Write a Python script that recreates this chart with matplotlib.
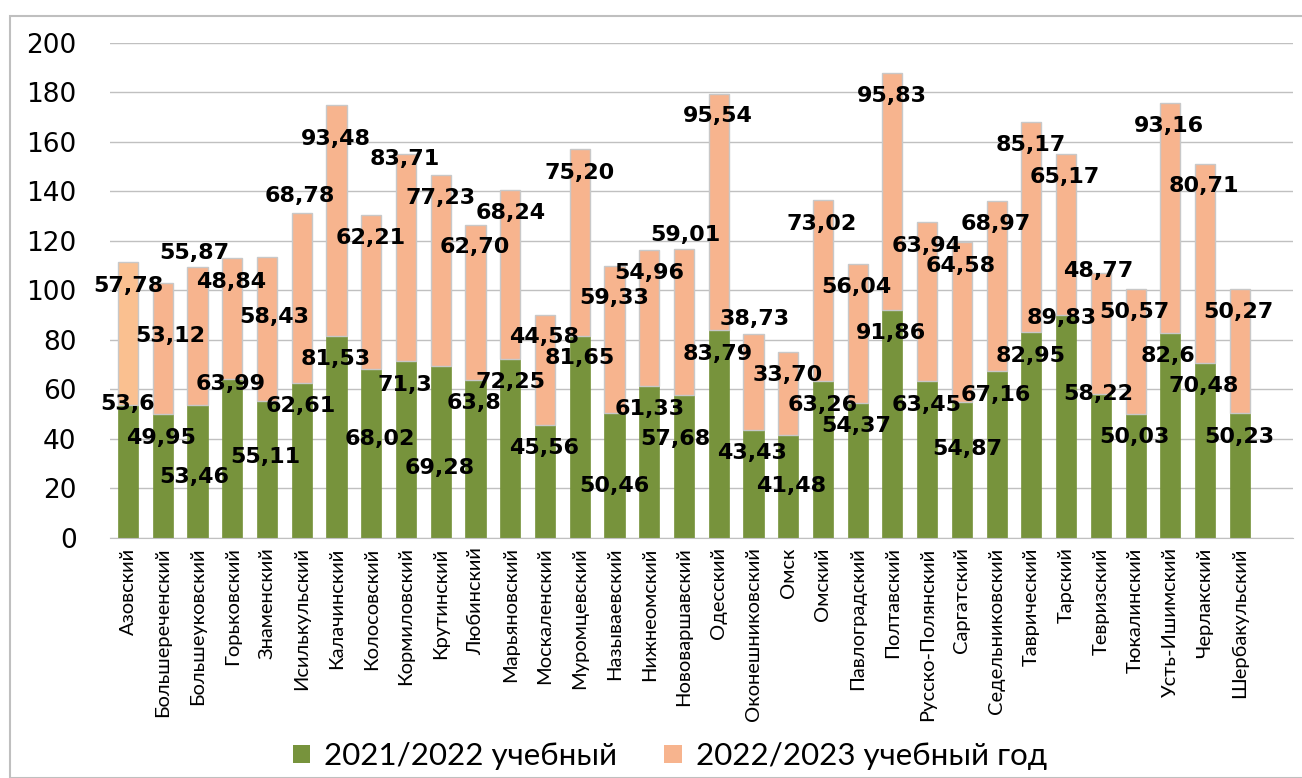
import numpy as np
import matplotlib
matplotlib.use('Agg')
import matplotlib.pyplot as plt
from matplotlib.patches import Rectangle, Patch

districts = ['Азовский', 'Большереченский', 'Большеуковский', 'Горьковский', 'Знаменский',
             'Исилькульский', 'Калачинский', 'Колосовский', 'Кормиловский', 'Крутинский',
             'Любинский', 'Марьяновский', 'Москаленский', 'Муромцевский', 'Называевский',
             'Нижнеомский', 'Нововаршавский', 'Одесский', 'Оконешниковский', 'Омск',
             'Омский', 'Павлоградский', 'Полтавский', 'Русско-Полянский', 'Саргатский',
             'Седельниковский', 'Таврический', 'Тарский', 'Тевризский', 'Тюкалинский',
             'Усть-Ишимский', 'Черлакский', 'Шербакульский']

y2122 = [53.6, 49.95, 53.46, 63.99, 55.11, 62.61, 81.53, 68.02, 71.3, 69.28,
         63.8, 72.25, 45.56, 81.65, 50.46, 61.33, 57.68, 83.79, 43.43, 41.48,
         63.26, 54.37, 91.86, 63.45, 54.87, 67.16, 82.95, 89.83, 58.22, 50.03,
         82.6, 70.48, 50.23]

y2223 = [57.78, 53.12, 55.87, 48.84, 58.43, 68.78, 93.48, 62.21, 83.71, 77.23,
         62.70, 68.24, 44.58, 75.20, 59.33, 54.96, 59.01, 95.54, 38.73, 33.70,
         73.02, 56.04, 95.83, 63.94, 64.58, 68.97, 85.17, 65.17, 48.77, 50.57,
         93.16, 80.71, 50.27]

series_names = ['2021/2022 учебный', '2022/2023 учебный год']

# label placement relative to the top of each segment (data units / pixels)
g_dy = [0.6, -9.6, -29, -1.9, -22.6, -9.2, -9.3, -28.3, -9.6, -41.1, -9.4, -9.2, -9.2,
        -9.2, -29.6, -9.3, -17.7, -9.4, -9.2, -20.6, -9.6, -9.3, -9.3, -9.8, -19.2,
        -9.4, -9.4, -1, -0.2, -9.3, -9.2, -9.1, -9.5]
o_dy = [-9.6, -21.5, 5.7, -9.6, -24.4, 6.5, -14, -9.3, -2, -9.3, -9.2, -9.5, -9.2,
        -9.5, -13, -9.4, 5.6, -8.9, 6.3, -9.5, -9.7, -9.3, -9.4, -9.7, -9.8, -9.5,
        -9.5, -9.4, 0.6, -9.6, -9.3, -9.2, -9.5]
g_dx = [-1, -2, -3, -2, -2, -1, -1, 9, -1, -1, -1, 0, -1, 0, 0, 0, -9, -1, -1, 3,
        0, -1, -1, -1, 5, -1, -1, -4, -3, -1, -2, -1, -1]
o_dx = [0, 7, -3, -1, 7, -2, -1, -1, -1, 0, -1, 0, -1, 0, 0, 0, 1, -1, 1, 0,
        -1, -1, -1, -1, -1, -1, -1, -1, -3, -1, -1, -1, -1]

green = '#77933C'
orange = '#F7B48E'
orange_first = '#FAC090'

fig = plt.figure(figsize=(13.02, 7.78), dpi=100)
ax = fig.add_axes([110/1302, 1 - 537.7/778, (1293-110)/1302, (537.7-42.7)/778])

x = np.arange(len(districts))
a = np.array(y2122)
b = np.array(y2223)
top_colors = [orange_first] + [orange] * (len(x) - 1)

ax.bar(x, a, width=0.58, color=green, edgecolor=green, linewidth=0.5, zorder=2)
ax.bar(x, b, bottom=a, width=0.58, color=top_colors, edgecolor='#C8C8C8', linewidth=1, zorder=2)

def fmt(v, keep_zero):
    s = ('%.2f' % v) if keep_zero else ('%g' % v)
    return s.replace('.', ',')

for i in x:
    ax.annotate(fmt(a[i], False), xy=(i, a[i] + g_dy[i]), xytext=(g_dx[i], 0),
                textcoords='offset pixels', ha='center', va='center',
                fontsize=16, fontweight='bold', color='black', zorder=5)
    ax.annotate(fmt(b[i], True), xy=(i, a[i] + b[i] + o_dy[i]), xytext=(o_dx[i], 0),
                textcoords='offset pixels', ha='center', va='center',
                fontsize=16, fontweight='bold', color='black', zorder=5)

ax.set_ylim(0, 200)
ax.set_yticks(range(0, 201, 20))
ax.set_xlim(-0.52, len(x) - 1 + 1.53)
ax.set_xticks(x)
ax.set_xticklabels(districts, rotation=90, fontsize=14.5, family='Lato')
ax.tick_params(axis='x', length=0, pad=7)
ax.tick_params(axis='y', length=0, pad=24, labelsize=19)
ax.grid(axis='y', color='#C0C0C0', linewidth=1, zorder=0)
ax.set_axisbelow(True)
for s in ['top', 'right', 'left']:
    ax.spines[s].set_visible(False)
ax.spines['bottom'].set_color('#C0C0C0')

handles = [Patch(facecolor=green), Patch(facecolor=orange)]
fig.legend(handles, series_names, loc='center', bbox_to_anchor=(670/1302, 1 - 756/778),
           ncol=2, frameon=False, prop={'family': 'Lato', 'size': 22.5},
           handlelength=0.55, handleheight=0.55, handletextpad=0.45, columnspacing=1.5)

fig.add_artist(Rectangle((10/1302, 0), 1.5, 1 - 16/778, transform=fig.transFigure,
                         fill=False, edgecolor='#BFBFBF', linewidth=1.5))

fig.savefig('out.png', dpi=100)
